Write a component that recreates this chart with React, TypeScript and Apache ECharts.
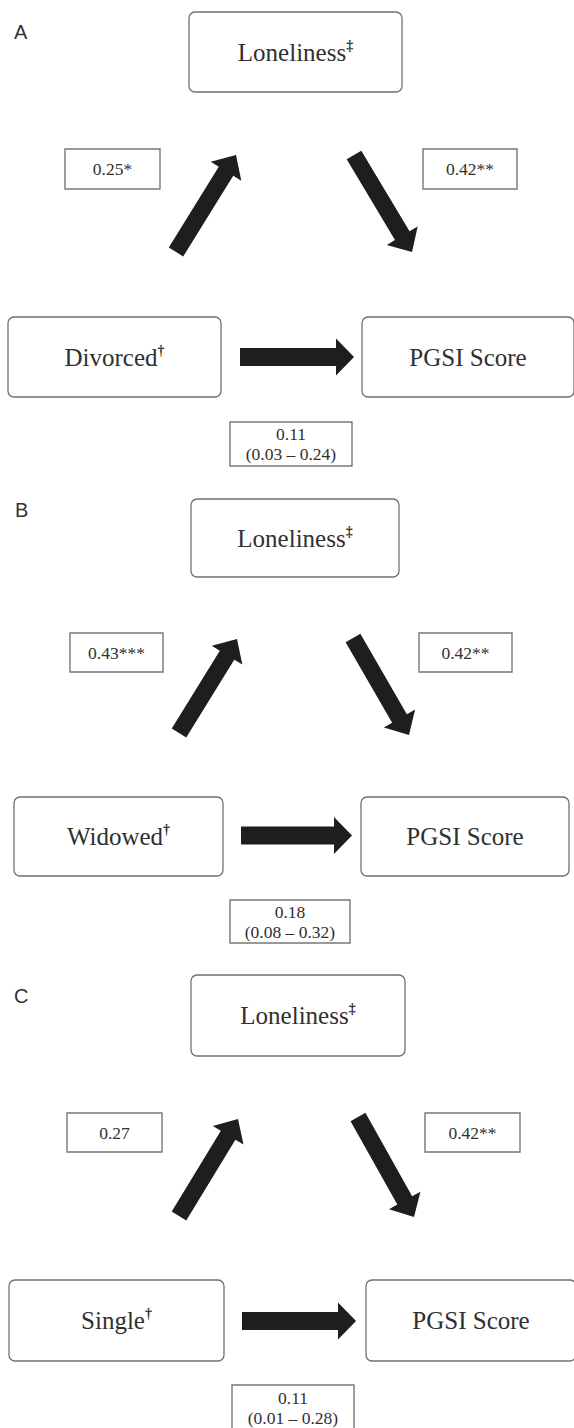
import React, { useEffect, useRef } from "react";
import * as echarts from "echarts";

// ---- Data ----
const panelLabels = ["A", "B", "C"];
const exposures = ["Divorced", "Widowed", "Single"];
const mediators = ["Loneliness", "Loneliness", "Loneliness"];
const outcomes = ["PGSI Score", "PGSI Score", "PGSI Score"];
const aPaths = ["0.25*", "0.43***", "0.27"];
const bPaths = ["0.42**", "0.42**", "0.42**"];
const indirectEffects = ["0.11", "0.18", "0.11"];
const indirectCIs = ["(0.03 – 0.24)", "(0.08 – 0.32)", "(0.01 – 0.28)"];

// ---- Layout (positions only) ----
type Rect = [number, number, number, number];
type Seg = [number, number, number, number];
interface PanelLayout {
  label: [number, number];
  top: Rect;
  left: Rect;
  right: Rect;
  aBox: Rect;
  bBox: Rect;
  cBox: Rect;
  up: Seg;
  down: Seg;
  h: Seg;
}
const layouts: PanelLayout[] = [
  {
    label: [14, 32],
    top: [189, 12, 213, 80],
    left: [8, 317, 213, 80],
    right: [362, 317, 212, 80],
    aBox: [65, 149, 95, 40],
    bBox: [423, 149, 94, 40],
    cBox: [230, 422, 122, 44],
    up: [176, 252, 236, 155],
    down: [354, 155, 412, 252],
    h: [240, 357, 354, 357],
  },
  {
    label: [15, 510],
    top: [191, 499, 208, 78],
    left: [14, 797, 209, 79],
    right: [361, 797, 208, 79],
    aBox: [70, 633, 93, 39],
    bBox: [419, 633, 93, 39],
    cBox: [230, 900, 120, 43],
    up: [179, 733, 237, 639],
    down: [353, 638, 409, 735],
    h: [241, 835.5, 352, 835.5],
  },
  {
    label: [14, 996],
    top: [191, 975, 214, 81],
    left: [9, 1280, 215, 81],
    right: [366, 1280, 210, 81],
    aBox: [67, 1113, 95, 39],
    bBox: [425, 1113, 95, 39],
    cBox: [232, 1385, 122, 46],
    up: [179, 1216, 238, 1119],
    down: [358, 1117, 414, 1217],
    h: [242, 1321, 356, 1321],
  },
];

const SERIF = '"Liberation Serif", "Times New Roman", serif';
const SANS = '"Liberation Sans", Arial, sans-serif';
const TEXT_COLOR = "#303030";
const BOX_STROKE = "#707070";
const ARROW_FILL = "#1e1e1e";

function arrowPoints(seg: Seg, sw: number, hw: number, hl: number) {
  const [x1, y1, x2, y2] = seg;
  const dx = x2 - x1;
  const dy = y2 - y1;
  const L = Math.hypot(dx, dy);
  const ux = dx / L;
  const uy = dy / L;
  const nx = -uy;
  const ny = ux;
  const bx = x2 - ux * hl;
  const by = y2 - uy * hl;
  return [
    [x1 + (nx * sw) / 2, y1 + (ny * sw) / 2],
    [bx + (nx * sw) / 2, by + (ny * sw) / 2],
    [bx + (nx * hw) / 2, by + (ny * hw) / 2],
    [x2, y2],
    [bx - (nx * hw) / 2, by - (ny * hw) / 2],
    [bx - (nx * sw) / 2, by - (ny * sw) / 2],
    [x1 - (nx * sw) / 2, y1 - (ny * sw) / 2],
  ];
}

function nodeBox(r: Rect, main: string, mark: string) {
  const [x, y, w, h] = r;
  return [
    {
      type: "rect",
      shape: { x, y, width: w, height: h, r: 6 },
      style: { fill: "#fff", stroke: BOX_STROKE, lineWidth: 1.3 },
    },
    {
      type: "text",
      x: x + w / 2,
      y: y + h / 2,
      style: {
        text: mark ? `{m|${main}}{s|${mark}}` : `{m|${main}}`,
        textAlign: "center",
        textVerticalAlign: "middle",
        rich: {
          m: { fontFamily: SERIF, fontSize: 25, fill: TEXT_COLOR, color: TEXT_COLOR, lineHeight: 28 },
          s: {
            fontFamily: SERIF,
            fontSize: 14,
            fontWeight: "bold",
            fill: TEXT_COLOR,
            color: TEXT_COLOR,
            lineHeight: 28,
            verticalAlign: "top",
          },
        },
      },
    },
  ];
}

function coefBox(r: Rect, lines: string[]) {
  const [x, y, w, h] = r;
  return [
    {
      type: "rect",
      shape: { x, y, width: w, height: h },
      style: { fill: "#fff", stroke: "#777", lineWidth: 1.4 },
    },
    {
      type: "text",
      x: x + w / 2,
      y: y + h / 2,
      style: {
        text: lines.join("\n"),
        textAlign: "center",
        textVerticalAlign: "middle",
        fontFamily: SERIF,
        fontSize: 17.5,
        lineHeight: 20,
        fill: TEXT_COLOR,
      },
    },
  ];
}

function buildGraphics() {
  const els: any[] = [];
  layouts.forEach((L, i) => {
    els.push({
      type: "text",
      x: L.label[0],
      y: L.label[1],
      style: {
        text: panelLabels[i],
        textAlign: "left",
        textVerticalAlign: "middle",
        fontFamily: SANS,
        fontSize: 20,
        fill: "#333",
      },
    });
    els.push(...nodeBox(L.top, mediators[i], "‡"));
    els.push(...nodeBox(L.left, exposures[i], "†"));
    els.push(...nodeBox(L.right, outcomes[i], ""));
    els.push(...coefBox(L.aBox, [aPaths[i]]));
    els.push(...coefBox(L.bBox, [bPaths[i]]));
    els.push(...coefBox(L.cBox, [indirectEffects[i], indirectCIs[i]]));
    els.push({
      type: "polygon",
      shape: { points: arrowPoints(L.up, 17, 36, 19) },
      style: { fill: ARROW_FILL },
    });
    els.push({
      type: "polygon",
      shape: { points: arrowPoints(L.down, 17, 36, 19) },
      style: { fill: ARROW_FILL },
    });
    els.push({
      type: "polygon",
      shape: { points: arrowPoints(L.h, 18, 37, 18) },
      style: { fill: ARROW_FILL },
    });
  });
  return els;
}

export default function App() {
  const ref = useRef<HTMLDivElement>(null);
  useEffect(() => {
    if (!ref.current) return;
    const chart = echarts.init(ref.current, undefined, { renderer: "svg" });
    chart.setOption({
      animation: false,
      backgroundColor: "#ffffff",
      graphic: { elements: buildGraphics() },
    });
    return () => chart.dispose();
  }, []);
  return (
    <div
      ref={ref}
      style={{ position: "absolute", left: 0, top: 0, width: 574, height: 1428, background: "#fff" }}
    />
  );
}
